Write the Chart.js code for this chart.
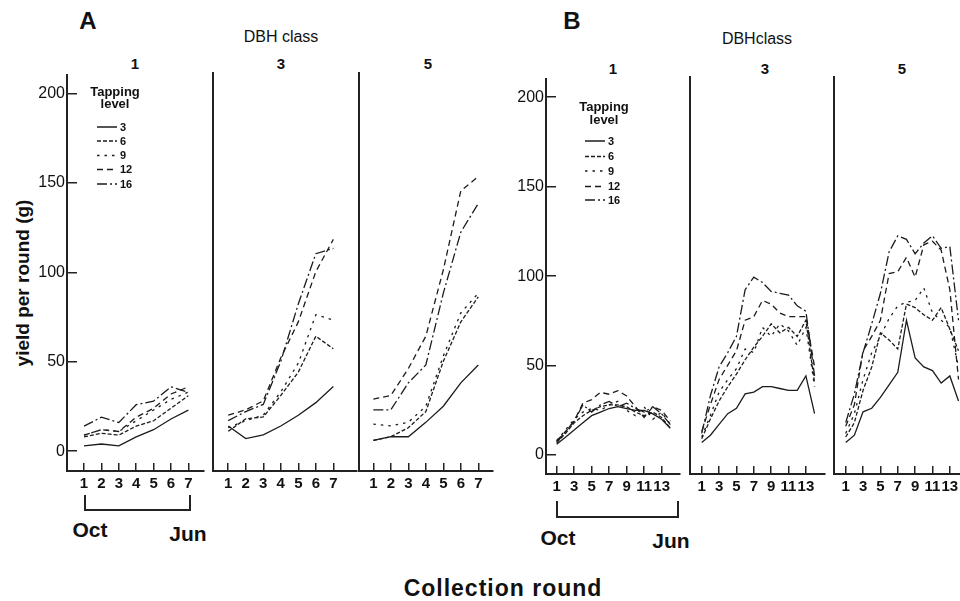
<!DOCTYPE html>
<html>
<head>
<meta charset="utf-8">
<script src="https://cdn.jsdelivr.net/npm/chart.js@4.4.1/dist/chart.umd.min.js"></script>
<style>
  html, body { margin: 0; padding: 0; background: #fff; }
  body { width: 960px; height: 601px; position: relative; overflow: hidden;
         font-family: "Liberation Sans", Arial, Helvetica, sans-serif; color: #111; }
  canvas { position: absolute; }
  .t { position: absolute; white-space: nowrap; transform: translate(-50%, -50%); line-height: 1; }
  .b { font-weight: bold; }
  .bracket { position: absolute; border: 2px solid #222; border-top: none; box-sizing: border-box; }
</style>
</head>
<body>

<div class="t b" style="left:88px; top:21px; font-size:24px;">A</div>
<div class="t b" style="left:572px; top:21px; font-size:24px;">B</div>
<div class="t" style="left:281px; top:37px; font-size:16px;">DBH class</div>
<div class="t" style="left:757px; top:39px; font-size:16px;">DBHclass</div>

<div class="t b" style="left:135px; top:63px; font-size:15px;">1</div>
<div class="t b" style="left:281px; top:63px; font-size:15px;">3</div>
<div class="t b" style="left:428px; top:63px; font-size:15px;">5</div>
<div class="t b" style="left:613px; top:68px; font-size:15px;">1</div>
<div class="t b" style="left:765px; top:68px; font-size:15px;">3</div>
<div class="t b" style="left:902px; top:68px; font-size:15px;">5</div>

<div class="t b" style="left:22px; top:283px; font-size:19px; transform:translate(-50%,-50%) rotate(-90deg);">yield per round (g)</div>

<div class="bracket" style="left:84px; top:495px; width:107px; height:16px;"></div>
<div class="t b" style="left:90px; top:529px; font-size:21px;">Oct</div>
<div class="t b" style="left:188px; top:533px; font-size:21px;">Jun</div>

<div class="bracket" style="left:556px; top:501px; width:123px; height:17px;"></div>
<div class="t b" style="left:558px; top:537px; font-size:21px;">Oct</div>
<div class="t b" style="left:671px; top:540px; font-size:21px;">Jun</div>

<div class="t b" style="left:503px; top:588px; font-size:23px; letter-spacing:1px;">Collection round</div>

<script>
// collection rounds and tick labels
const roundsA = [1, 2, 3, 4, 5, 6, 7];
const roundsB = [1, 2, 3, 4, 5, 6, 7, 8, 9, 10, 11, 12, 13, 14];
const xTicksA = [1, 2, 3, 4, 5, 6, 7];
const xTicksB = [1, 3, 5, 7, 9, 11, 13];
const yTicks = [0, 50, 100, 150, 200];
const levels = ['3', '6', '9', '12', '16'];

// panel A, DBH class 1 / 3 / 5 (one array per tapping level)
const a1_3  = [3, 4, 3, 8, 12, 18, 23];
const a1_6  = [8, 10, 9, 14, 17, 24, 31];
const a1_9  = [9, 12, 11, 17, 23, 29, 33];
const a1_12 = [9, 12, 11, 19, 24, 32, 36];
const a1_16 = [14, 19, 16, 26, 28, 36, 33];

const a3_3  = [14, 7, 9, 14, 20, 27, 36];
const a3_6  = [11, 18, 19, 31, 44, 64, 57];
const a3_9  = [13, 17, 20, 33, 49, 76, 73];
const a3_12 = [20, 23, 28, 52, 72, 100, 118];
const a3_16 = [17, 22, 26, 50, 82, 110, 113];

const a5_3  = [6, 8, 8, 16, 25, 38, 48];
const a5_6  = [6, 8, 13, 22, 50, 72, 86];
const a5_9  = [15, 14, 16, 25, 53, 77, 88];
const a5_12 = [29, 31, 46, 64, 101, 145, 153];
const a5_16 = [23, 23, 38, 48, 88, 122, 138];

// panel B, DBH class 1 / 3 / 5
const b1_3  = [6, 10, 14, 18, 22, 24, 26, 27, 26, 25, 25, 23, 20, 15];
const b1_6  = [7, 12, 18, 22, 25, 27, 28, 28, 27, 24, 22, 24, 21, 15];
const b1_9  = [8, 14, 20, 24, 26, 25, 28, 30, 25, 22, 27, 20, 24, 17];
const b1_12 = [8, 13, 19, 29, 31, 35, 34, 36, 33, 27, 21, 27, 25, 19];
const b1_16 = [7, 13, 19, 28, 24, 28, 30, 27, 29, 26, 24, 27, 23, 17];

const b3_3  = [7, 11, 17, 23, 26, 34, 35, 38, 38, 37, 36, 36, 44, 23];
const b3_6  = [9, 20, 30, 38, 45, 53, 60, 66, 73, 68, 71, 66, 75, 40];
const b3_9  = [10, 22, 35, 42, 48, 59, 57, 71, 66, 73, 69, 61, 71, 38];
const b3_12 = [13, 28, 42, 50, 58, 75, 77, 86, 84, 79, 77, 77, 77, 49];
const b3_16 = [12, 33, 49, 57, 66, 92, 99, 96, 91, 90, 89, 83, 80, 44];

const b5_3  = [7, 11, 24, 26, 32, 39, 46, 75, 54, 49, 47, 40, 44, 30];
const b5_6  = [10, 18, 36, 49, 68, 64, 59, 84, 82, 78, 75, 82, 70, 58];
const b5_9  = [12, 23, 42, 57, 66, 76, 83, 85, 86, 93, 79, 75, 71, 49];
const b5_12 = [16, 28, 58, 66, 75, 101, 102, 110, 99, 117, 119, 114, 92, 42];
const b5_16 = [18, 34, 57, 73, 90, 113, 122, 120, 112, 118, 122, 115, 116, 75];

const FONT = '"Liberation Sans", Arial, Helvetica, sans-serif';
const INK = '#1c1c1c';
const dashes = { '3': [], '6': [4, 2], '9': [2.5, 5], '12': [6, 4], '16': [10, 3, 2, 3] };

// draws the "Tapping level" key inside the first subplot of each panel
const tapLegend = {
    id: 'tapLegend',
    afterDatasetsDraw(chart, args, opts) {
        if (!opts || !opts.rows) return;
        const ctx = chart.ctx;
        ctx.save();
        ctx.fillStyle = '#111';
        ctx.textBaseline = 'middle';
        ctx.textAlign = 'center';
        ctx.font = 'bold 13px ' + FONT;
        ctx.fillText('Tapping', opts.cx - opts.ox, opts.ty[0] - opts.oy);
        ctx.fillText('level', opts.cx - opts.ox, opts.ty[1] - opts.oy);
        ctx.font = 'bold 11px ' + FONT;
        ctx.textAlign = 'left';
        chart.data.datasets.forEach((ds, i) => {
            const y = opts.rows[i] - opts.oy;
            ctx.strokeStyle = ds.borderColor;
            ctx.lineWidth = 1.5;
            ctx.setLineDash(ds.borderDash);
            ctx.beginPath();
            ctx.moveTo(opts.x0 - opts.ox, y);
            ctx.lineTo(opts.x1 - opts.ox, y);
            ctx.stroke();
            ctx.setLineDash([]);
            ctx.fillText(ds.label, opts.lx - opts.ox, y + 0.5);
        });
        ctx.restore();
    }
};

const PAD_L = 50, PAD_T = 20, PAD_R = 10, PAD_B = 34;

const subplots = [
    { series: [a1_3, a1_6, a1_9, a1_12, a1_16], rounds: roundsA, xTicks: xTicksA,
      box: { l: 67, r: 204, t: 73, b: 471 }, x: [0.02, 7.9], y: [-11.1, 210.7], labels: true,
      legend: { cx: 115, ty: [92, 104], rows: [127, 141, 155.5, 169.5, 184], x0: 97, x1: 117, lx: 120 } },
    { series: [a3_3, a3_6, a3_9, a3_12, a3_16], rounds: roundsA, xTicks: xTicksA,
      box: { l: 213, r: 357, t: 73, b: 471 }, x: [0.13, 8.35], y: [-11.1, 210.7], labels: false },
    { series: [a5_3, a5_6, a5_9, a5_12, a5_16], rounds: roundsA, xTicks: xTicksA,
      box: { l: 359, r: 493, t: 73, b: 471 }, x: [0.18, 7.84], y: [-11.1, 210.7], labels: false },
    { series: [b1_3, b1_6, b1_9, b1_12, b1_16], rounds: roundsB, xTicks: xTicksB,
      box: { l: 546, r: 680, t: 77, b: 474 }, x: [-0.22, 15.1], y: [-10.6, 210.4], labels: true,
      legend: { cx: 604, ty: [107, 120], rows: [141, 156.5, 171, 186.5, 200], x0: 585, x1: 605, lx: 608 } },
    { series: [b3_3, b3_6, b3_9, b3_12, b3_16], rounds: roundsB, xTicks: xTicksB,
      box: { l: 690, r: 825, t: 77, b: 474 }, x: [-0.35, 15.2], y: [-10.6, 210.4], labels: false },
    { series: [b5_3, b5_6, b5_9, b5_12, b5_16], rounds: roundsB, xTicks: xTicksB,
      box: { l: 834, r: 975, t: 77, b: 474 }, x: [-0.35, 15.9], y: [-10.6, 210.4], labels: false }
];

subplots.forEach(p => {
    const cv = document.createElement('canvas');
    const w = p.box.r - p.box.l + PAD_L + PAD_R;
    const h = p.box.b - p.box.t + PAD_T + PAD_B;
    const ox = p.box.l - PAD_L, oy = p.box.t - PAD_T;
    cv.width = w; cv.height = h;
    cv.style.left = ox + 'px'; cv.style.top = oy + 'px';
    cv.style.width = w + 'px'; cv.style.height = h + 'px';
    document.body.appendChild(cv);

    new Chart(cv, {
        type: 'line',
        data: {
            datasets: levels.map((lv, k) => ({
                label: lv,
                data: p.series[k].map((v, i) => ({ x: p.rounds[i], y: v })),
                borderColor: INK,
                borderWidth: 1.3,
                borderDash: dashes[lv],
                pointRadius: 0,
                tension: 0,
                fill: false
            }))
        },
        options: {
            responsive: false,
            animation: false,
            devicePixelRatio: 1,
            layout: { padding: { left: 0, top: PAD_T, right: PAD_R, bottom: 0 } },
            plugins: {
                legend: { display: false },
                tooltip: { enabled: false },
                tapLegend: p.legend ? Object.assign({ ox: ox, oy: oy }, p.legend) : false
            },
            scales: {
                x: {
                    type: 'linear',
                    min: p.x[0], max: p.x[1],
                    afterFit: s => { s.height = PAD_B; },
                    afterBuildTicks: s => { s.ticks = p.xTicks.map(v => ({ value: v })); },
                    border: { display: true, color: '#222', width: 2 },
                    grid: { display: true, drawOnChartArea: false, drawTicks: true, tickLength: -8, color: '#222', lineWidth: 1.5 },
                    ticks: { autoSkip: false, maxRotation: 0, padding: 12, color: '#111',
                             font: { family: FONT, size: 15, weight: 'bold' } }
                },
                y: {
                    min: p.y[0], max: p.y[1],
                    afterFit: s => { s.width = PAD_L; },
                    afterBuildTicks: s => { s.ticks = yTicks.map(v => ({ value: v })); },
                    border: { display: true, color: '#222', width: 2 },
                    grid: { display: p.labels, drawOnChartArea: false, drawTicks: true, tickLength: -10, color: '#222', lineWidth: 1.5 },
                    ticks: { display: p.labels, padding: 12, color: '#111',
                             font: { family: FONT, size: 16 } }
                }
            }
        },
        plugins: [tapLegend]
    });
});
</script>
</body>
</html>
